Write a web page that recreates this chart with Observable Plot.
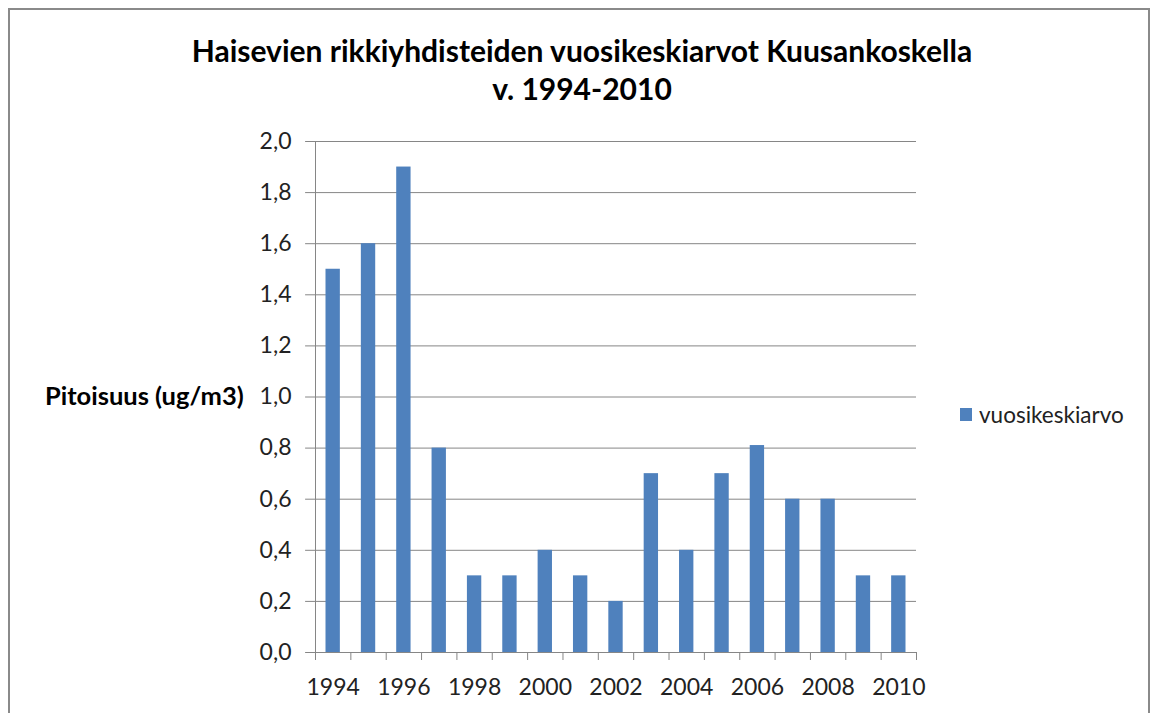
<!DOCTYPE html>
<html><head><meta charset="utf-8">
<script src="https://cdn.jsdelivr.net/npm/d3@7"></script>
<script src="https://cdn.jsdelivr.net/npm/@observablehq/plot@0.6"></script>
<style>
body{margin:0;background:#fff;}
#wrap{position:relative;width:1153px;height:713px;overflow:hidden;font-family:Lato,"Open Sans",sans-serif;}
#frame{position:absolute;left:8px;top:8px;width:1142px;height:720px;border:2px solid #8a8a8a;box-sizing:border-box;}
#title{position:absolute;left:0;width:1164px;top:31px;text-align:center;font-weight:bold;font-size:30px;line-height:38px;color:#000;}
#ylab{position:absolute;left:45px;top:380px;font-weight:bold;font-size:25.5px;color:#000;}
#legend{position:absolute;left:960px;top:401px;font-size:22.5px;color:#222;display:flex;align-items:center;}
#legend span.sw{display:inline-block;width:12px;height:13px;background:#4F81BD;margin-right:7px;}
#chart{position:absolute;left:0;top:0;}
</style></head>
<body>
<div id="wrap">
  <div id="chart"></div>
  <div id="frame"></div>
  <div id="title">Haisevien rikkiyhdisteiden vuosikeskiarvot Kuusankoskella<br>v. 1994-2010</div>
  <div id="ylab">Pitoisuus (ug/m3)</div>
  <div id="legend"><span class="sw"></span>vuosikeskiarvo</div>
</div>
<script>
const years = [1994,1995,1996,1997,1998,1999,2000,2001,2002,2003,2004,2005,2006,2007,2008,2009,2010];
const values = [1.5,1.6,1.9,0.8,0.3,0.3,0.4,0.3,0.2,0.7,0.4,0.7,0.81,0.6,0.6,0.3,0.3];
const yTicks = [0,0.2,0.4,0.6,0.8,1.0,1.2,1.4,1.6,1.8,2.0];
const labelYears = [1994,1996,1998,2000,2002,2004,2006,2008,2010];

const data = years.map((y,i)=>({year:y, value:values[i]}));
const boundaries = years.concat([years[years.length-1]+1]);
const fmt = d => d.toFixed(1).replace(".", ",");

const plot = Plot.plot({
  width:1153, height:713,
  marginTop:141, marginBottom:61, marginLeft:315, marginRight:237,
  style:{fontFamily:"Lato, 'Open Sans', sans-serif", fontSize:"23px", color:"#222", background:"transparent"},
  x:{type:"linear", domain:[1994,2011], axis:null, label:null},
  y:{domain:[0,2], axis:null, label:null},
  marks:[
    Plot.gridY(yTicks,{stroke:"#868686", strokeOpacity:1, x1:1993.72, x2:2011}),
    Plot.rectY(data,{x1:"year", x2:d=>d.year+1, y:"value", fill:"#4F81BD", insetLeft:10.5, insetRight:10.5}),
    Plot.ruleX([1994],{stroke:"#868686"}),
    Plot.ruleY([0],{stroke:"#868686"}),
    Plot.axisX(boundaries,{tickSize:8, tickFormat:()=>"", stroke:"#868686", strokeOpacity:1, label:null}),
    Plot.axisX(labelYears.map(d=>d+0.5),{tickSize:0, tickPadding:26, tickFormat:d=>String(d-0.5), fill:"#222", fontSize:23, label:null}),
    Plot.axisY(yTicks,{tickSize:0, tickPadding:24, tickFormat:fmt, fill:"#222", fontSize:23, label:null})
  ]
});
document.getElementById("chart").appendChild(plot);
</script>
</body></html>
